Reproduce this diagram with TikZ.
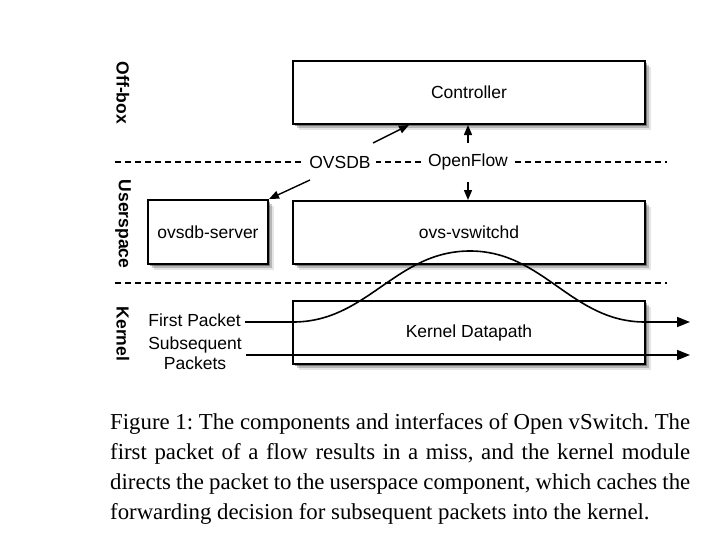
\documentclass[tikz,border=0pt]{standalone}
\usepackage{fontspec}
\setmainfont{Liberation Sans}
\newfontfamily\captionfont{Liberation Serif}
\usetikzlibrary{calc, shapes, arrows.meta, shadows}

\tikzset{
	compbox/.style={draw, line width=2pt, fill=white, inner sep=0pt,
		drop shadow={shadow xshift=2pt, shadow yshift=-2pt, opacity=.35, fill=black},
		drop shadow={shadow xshift=4pt, shadow yshift=-4pt, opacity=.2, fill=black},
		drop shadow={shadow xshift=6pt, shadow yshift=-6pt, opacity=.1, fill=black}},
	layerline/.style={line width=1.3pt, dash pattern=on 6pt off 4pt},
	ifarrow/.style={line width=1.4pt, -{Triangle[length=10pt,width=8pt]}},
	pktarrow/.style={line width=1.6pt, -{Triangle[length=13pt,width=10pt]}},
	layerlabel/.style={rotate=-90, font=\fontsize{17.5}{20}\selectfont\bfseries},
}

\begin{document}
\frenchspacing
\begin{tikzpicture}[x=1pt, y=-1pt, font=\fontsize{17.5}{21}\selectfont]
	\useasboundingbox[fill=white] (0,0) rectangle (712,538);
	%Layer separators
	\coordinate (sepL1) at (115,162);
	\coordinate (sepR1) at (667,162);
	\coordinate (sepL2) at (115,283);
	\coordinate (sepR2) at (667,283);
	\draw[layerline] (sepL1) -- (sepR1);
	\draw[layerline] (sepL2) -- (sepR2);
	%Layer names on the left
	\node[layerlabel] (offbox) at (123,93) {Off-box};
	\node[layerlabel] (userspace) at (123,224) {Userspace};
	\node[layerlabel] (kernel) at (123,334) {Kernel};
	%Components
	\node[compbox, minimum width=352pt, minimum height=63pt] (ctrl) at (469,92.5) {Controller};
	\node[compbox, minimum width=120pt, minimum height=64pt] (ovsdb) at (208,232) {ovsdb-server};
	\node[compbox, minimum width=352pt, minimum height=63pt] (vswitchd) at (469,232.5) {ovs-vswitchd};
	\node[compbox, minimum width=352pt, minimum height=63pt] (datapath) at (469,332.5) {Kernel Datapath};
	%Interface names on the dashed line
	\node[fill=white, inner xsep=5pt] (ovsdbLbl) at (340,162) {OVSDB};
	\node[fill=white, inner xsep=5pt] (ofLbl) at (468,162) {OpenFlow};
	%OVSDB arrows
	\coordinate (ovsdbUpFrom) at (373,143);
	\coordinate (ovsdbUpTo) at (409,125);
	\coordinate (ovsdbDownFrom) at (310,180);
	\draw[ifarrow] (ovsdbUpFrom) -- (ovsdbUpTo);
	\draw[ifarrow] (ovsdbDownFrom) -- (ovsdb.north east);
	%OpenFlow arrows
	\coordinate (ofUpFrom) at (468,143);
	\coordinate (ofDownFrom) at (468,182);
	\draw[ifarrow] (ofUpFrom) -- (ofUpFrom |- ctrl.south);
	\draw[ifarrow] (ofDownFrom) -- (ofDownFrom |- vswitchd.north);
	%Packets
	\node[anchor=east, inner sep=0pt] (firstLbl) at (241,320) {First Packet};
	\node[align=center, inner sep=0pt, font=\fontsize{17.5}{20}\selectfont] (subLbl) at (195,353) {Subsequent\\Packets};
	\coordinate (fpIn) at (293,322);
	\coordinate (fpTop) at (470,251);
	\coordinate (fpOut) at (645,322);
	\coordinate (fpEnd) at (690,322);
	\coordinate (spFrom) at (246,355);
	\coordinate (spEnd) at (690,355);
	\draw[pktarrow] (firstLbl.east |- fpIn) ++(4,0) -- (fpIn) to[out=0, in=180] (fpTop) to[out=0, in=180] (fpOut) -- (fpEnd);
	\draw[pktarrow] (spFrom) -- (spEnd);
	%Caption
	\node[anchor=north west, inner sep=0pt, text width=580pt, align=justify,
		font=\captionfont\fontsize{22.8}{30}\selectfont] (caption) at (110,413)
		{Figure 1: The components and interfaces of Open vSwitch. The\linebreak
		first packet of a flow results in a miss, and the kernel module\linebreak
		directs the packet to the userspace component, which caches the\linebreak
		forwarding decision for subsequent packets into the kernel.};
\end{tikzpicture}
\end{document}
